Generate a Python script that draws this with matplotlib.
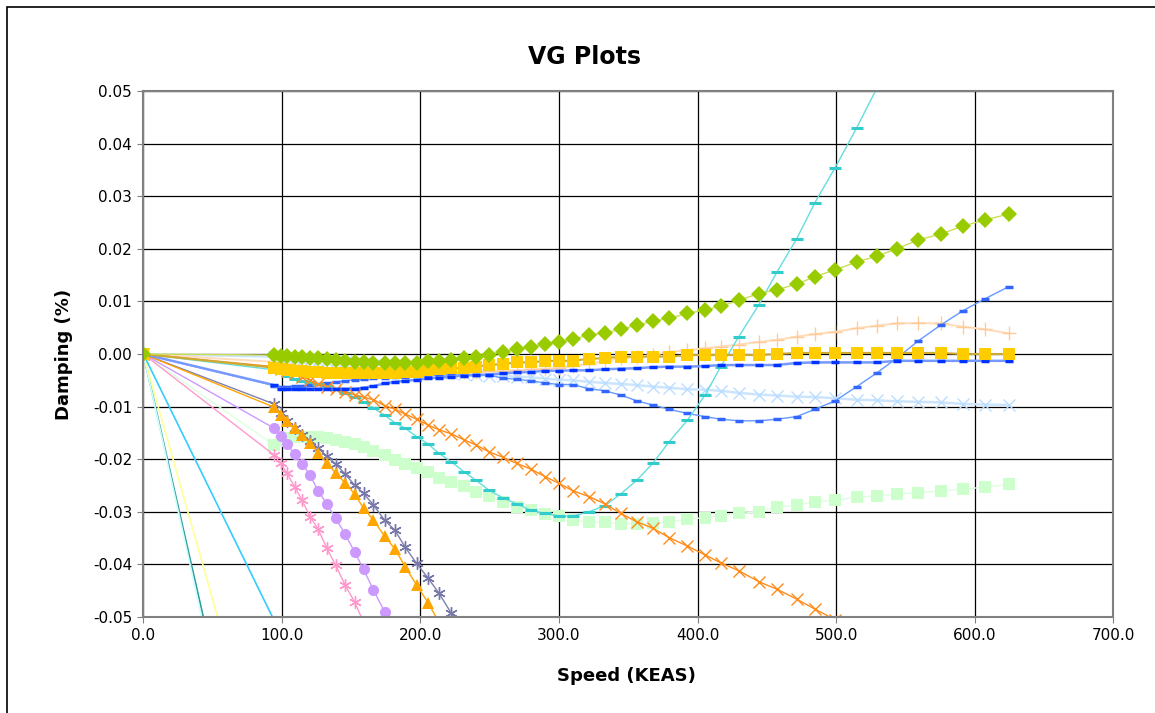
import matplotlib
matplotlib.use("Agg")
from matplotlib import pyplot as plt
from matplotlib.patches import Rectangle

# speed grid (KEAS), shared by every mode
speed = [0.0, 94.3, 99.0, 103.7, 109.1, 114.5, 120.3, 126.1, 132.4, 138.7, 145.6,
         152.4, 158.9, 166.1, 174.1, 181.6, 188.9, 197.2, 205.5, 213.4, 222.3,
         231.4, 240.1, 249.5, 259.2, 269.5, 279.8, 289.9, 300.0, 309.9, 321.6,
         333.2, 344.5, 356.1, 367.6, 379.4, 392.6, 405.4, 416.7, 429.7, 444.3,
         457.1, 471.5, 484.7, 499.2, 514.8, 529.3, 543.7, 559.3, 575.4, 591.3,
         607.4, 624.5]

# damping per mode
green_diamond = [0.0, -0.0002, -0.0003, -0.0004, -0.0005, -0.0006, -0.0007, -0.0008, -0.0010,
                 -0.0011, -0.0013, -0.0015, -0.0016, -0.0017, -0.0018, -0.0018, -0.0018,
                 -0.0017, -0.0013, -0.0013, -0.0011, -0.0008, -0.0005, -0.0001, 0.0004,
                 0.0009, 0.0013, 0.0019, 0.0023, 0.0028, 0.0036, 0.0040, 0.0047, 0.0055,
                 0.0062, 0.0068, 0.0077, 0.0084, 0.0091, 0.0102, 0.0115, 0.0122, 0.0133,
                 0.0147, 0.0160, 0.0175, 0.0186, 0.0200, 0.0217, 0.0228, 0.0243, 0.0255,
                 0.0266]
gold_square = [0.0, -0.0026, -0.0028, -0.0030, -0.0032, -0.0033, -0.0034, -0.0035, -0.0036,
               -0.0036, -0.0037, -0.0037, -0.0037, -0.0037, -0.0037, -0.0036, -0.0035,
               -0.0034, -0.0031, -0.0029, -0.0027, -0.0027, -0.0024, -0.0021, -0.0019,
               -0.0016, -0.0016, -0.0013, -0.0013, -0.0013, -0.0009, -0.0008, -0.0005,
               -0.0005, -0.0005, -0.0005, -0.0002, -0.0002, -0.0002, -0.0002, -0.0002,
               0.0000, 0.0002, 0.0002, 0.0002, 0.0002, 0.0002, 0.0002, 0.0002, 0.0002,
               0.0000, 0.0000, 0.0000]
blue_dash = [0.0, -0.0059, -0.0066, -0.0066, -0.0066, -0.0066, -0.0066, -0.0066, -0.0066,
             -0.0066, -0.0066, -0.0066, -0.0064, -0.0061, -0.0056, -0.0053, -0.0051,
             -0.0049, -0.0046, -0.0045, -0.0043, -0.0041, -0.0040, -0.0039, -0.0037,
             -0.0035, -0.0034, -0.0032, -0.0032, -0.0031, -0.0031, -0.0029, -0.0028,
             -0.0027, -0.0025, -0.0024, -0.0024, -0.0023, -0.0021, -0.0021, -0.0021,
             -0.0021, -0.0017, -0.0016, -0.0016, -0.0016, -0.0016, -0.0013, -0.0013,
             -0.0013, -0.0013, -0.0013, -0.0013]
mid_blue_dash = [0.0, -0.0060, -0.0062, -0.0062, -0.0061, -0.0060, -0.0059, -0.0057, -0.0055,
                 -0.0053, -0.0051, -0.0049, -0.0048, -0.0046, -0.0045, -0.0044, -0.0043,
                 -0.0042, -0.0041, -0.0040, -0.0040, -0.0040, -0.0040, -0.0040, -0.0046,
                 -0.0048, -0.0051, -0.0055, -0.0058, -0.0058, -0.0066, -0.0070, -0.0078,
                 -0.0089, -0.0097, -0.0105, -0.0113, -0.0119, -0.0124, -0.0127, -0.0127,
                 -0.0124, -0.0119, -0.0105, -0.0089, -0.0062, -0.0036, -0.0008, 0.0025,
                 0.0055, 0.0082, 0.0105, 0.0128]
light_blue_x = [0.0, -0.0005, -0.0007, -0.0009, -0.0010, -0.0011, -0.0012, -0.0013, -0.0014,
                -0.0015, -0.0016, -0.0017, -0.0018, -0.0020, -0.0022, -0.0024, -0.0026,
                -0.0029, -0.0031, -0.0034, -0.0036, -0.0038, -0.0040, -0.0041, -0.0042,
                -0.0043, -0.0044, -0.0047, -0.0049, -0.0050, -0.0053, -0.0055, -0.0057,
                -0.0059, -0.0062, -0.0064, -0.0067, -0.0068, -0.0070, -0.0074, -0.0077,
                -0.0079, -0.0081, -0.0082, -0.0084, -0.0087, -0.0088, -0.0090, -0.0091,
                -0.0092, -0.0095, -0.0096, -0.0097]
peach_plus = [0.0, -0.0015, -0.0017, -0.0019, -0.0021, -0.0023, -0.0025, -0.0026, -0.0027,
              -0.0028, -0.0029, -0.0030, -0.0031, -0.0032, -0.0033, -0.0034, -0.0034,
              -0.0035, -0.0035, -0.0035, -0.0035, -0.0035, -0.0034, -0.0033, -0.0032,
              -0.0031, -0.0029, -0.0028, -0.0026, -0.0023, -0.0019, -0.0013, -0.0008,
              -0.0005, -0.0002, 0.0004, 0.0007, 0.0011, 0.0014, 0.0018, 0.0023, 0.0027,
              0.0033, 0.0038, 0.0042, 0.0049, 0.0054, 0.0058, 0.0059, 0.0058, 0.0052,
              0.0047, 0.0039]
cyan_dash = [0.0, -0.0030, -0.0036, -0.0042, -0.0048, -0.0052, -0.0054, -0.0057, -0.0061,
             -0.0067, -0.0074, -0.0082, -0.0091, -0.0103, -0.0116, -0.0131, -0.0141,
             -0.0157, -0.0171, -0.0189, -0.0205, -0.0224, -0.0240, -0.0259, -0.0273,
             -0.0285, -0.0297, -0.0303, -0.0308, -0.0308, -0.0300, -0.0288, -0.0266,
             -0.0240, -0.0208, -0.0167, -0.0126, -0.0078, -0.0024, 0.0033, 0.0094,
             0.0155, 0.0219, 0.0288, 0.0354, 0.0430, 0.0505]
orange_x = [0.0, -0.0024, -0.0028, -0.0032, -0.0037, -0.0043, -0.0050, -0.0057, -0.0062,
            -0.0067, -0.0073, -0.0077, -0.0082, -0.0087, -0.0098, -0.0105, -0.0114,
            -0.0124, -0.0135, -0.0144, -0.0152, -0.0163, -0.0173, -0.0186, -0.0196,
            -0.0208, -0.0219, -0.0233, -0.0246, -0.0260, -0.0271, -0.0285, -0.0303,
            -0.0319, -0.0331, -0.0349, -0.0365, -0.0382, -0.0397, -0.0412, -0.0433,
            -0.0447, -0.0466, -0.0485, -0.0505, -0.0530]
light_green_sq = [0.0, -0.0173, -0.0165, -0.0160, -0.0158, -0.0157, -0.0157, -0.0158, -0.0160,
                  -0.0163, -0.0167, -0.0172, -0.0177, -0.0184, -0.0192, -0.0201, -0.0209,
                  -0.0217, -0.0225, -0.0235, -0.0243, -0.0251, -0.0262, -0.0270, -0.0281,
                  -0.0291, -0.0297, -0.0304, -0.0308, -0.0316, -0.0319, -0.0320, -0.0323,
                  -0.0323, -0.0322, -0.0319, -0.0314, -0.0311, -0.0307, -0.0303, -0.0300,
                  -0.0291, -0.0287, -0.0281, -0.0278, -0.0272, -0.0270, -0.0266, -0.0264,
                  -0.0260, -0.0257, -0.0253, -0.0248]
purple_circle = [0.0, -0.0141, -0.0156, -0.0171, -0.0190, -0.0209, -0.0230, -0.0260, -0.0285,
                 -0.0312, -0.0342, -0.0376, -0.0409, -0.0449, -0.0490, -0.0535]
orange_tri = [0.0, -0.0101, -0.0116, -0.0127, -0.0141, -0.0154, -0.0170, -0.0188, -0.0207,
              -0.0226, -0.0245, -0.0266, -0.0293, -0.0316, -0.0346, -0.0371, -0.0404,
              -0.0439, -0.0473, -0.0510]
slate_star = [0.0, -0.0095, -0.0113, -0.0127, -0.0141, -0.0154, -0.0165, -0.0179, -0.0194,
              -0.0209, -0.0228, -0.0249, -0.0265, -0.0287, -0.0316, -0.0335, -0.0367,
              -0.0398, -0.0426, -0.0455, -0.0493, -0.0530]
pink_star = [0.0, -0.0192, -0.0208, -0.0227, -0.0252, -0.0278, -0.0309, -0.0333, -0.0369,
             -0.0401, -0.0439, -0.0471, -0.0510]
teal_line = [0.0, -0.109]
pale_cyan_line = [0.0, -0.112]
pale_yellow_line = [0.0, -0.088]
sky_line = [0.0, -0.0506]

asterisk = (6, 2, 0)

# (values, line colour, line width, marker, marker colour, marker size, marker edge width)
series = [
    (teal_line, '#339999', 1.3, None, None, 0, 0),
    (pale_cyan_line, '#CCFFFF', 1.2, None, None, 0, 0),
    (pale_yellow_line, '#FFFF99', 1.2, None, None, 0, 0),
    (sky_line, '#33CCFF', 1.2, None, None, 0, 0),
    (light_green_sq, '#DDFFDD', 1.0, 's', '#CCFFCC', 8, 0),
    (light_blue_x, '#CCE5FF', 1.8, 'x', '#BBDDFF', 9, 1.0),
    (peach_plus, '#FFDDBB', 1.5, '+', '#FFCC99', 10, 1.0),
    (mid_blue_dash, '#6699FF', 1.0, '_', '#3366FF', 6, 2.5),
    (cyan_dash, '#66DDDD', 1.0, '_', '#33CCCC', 8, 2.2),
    (orange_x, '#FF8C1A', 1.0, 'x', '#FF8C1A', 8, 1.0),
    (purple_circle, '#CC99FF', 1.0, 'o', '#CC99FF', 8, 0),
    (pink_star, '#FF99CC', 1.0, asterisk, '#FF99CC', 9, 1.0),
    (slate_star, '#8080B0', 1.0, asterisk, '#7777AA', 9, 1.0),
    (orange_tri, '#FFA500', 1.0, '^', '#FFA500', 9, 0),
    (blue_dash, '#7799FF', 1.8, '_', '#0033FF', 6, 2.5),
    (gold_square, '#CCAA33', 1.5, 's', '#FFCC00', 9, 0),
    (green_diamond, '#CCDD55', 1.0, 'D', '#99CC00', 8, 0),
]

fig = plt.figure(figsize=(11.55, 7.13), dpi=100)
ax = fig.add_axes([0.1241, 0.1346, 0.8398, 0.7378])

for vals, lc, lw, mk, mc, ms, mew in series:
    x = speed[:len(vals)]
    if mk is None:
        ax.plot(x, vals, color=lc, lw=lw)
    else:
        ax.plot(x, vals, color=lc, lw=lw, marker=mk, markersize=ms,
                markerfacecolor=mc, markeredgecolor=mc, markeredgewidth=mew)

ax.set_xlim(0, 700)
ax.set_ylim(-0.05, 0.05)
xt = [0, 100, 200, 300, 400, 500, 600, 700]
yt = [-0.05, -0.04, -0.03, -0.02, -0.01, 0.0, 0.01, 0.02, 0.03, 0.04, 0.05]
ax.set_xticks(xt)
ax.set_xticklabels(['%.1f' % v for v in xt])
ax.set_yticks(yt)
ax.set_yticklabels(['%.2f' % v for v in yt])
ax.tick_params(labelsize=11, length=4, color='#808080', pad=4)
ax.grid(True, color='black', lw=0.9)
ax.set_axisbelow(True)
for s in ax.spines.values():
    s.set_color('#808080')
    s.set_linewidth(1.5)

fig.text(0.506, 1 - 57 / 713, 'VG Plots', ha='center', va='center', fontsize=17, fontweight='bold')
fig.text(626 / 1155, 1 - 676 / 713, 'Speed (KEAS)', ha='center', va='center', fontsize=13, fontweight='bold')
fig.text(64 / 1155, 1 - 354 / 713, 'Damping (%)', ha='center', va='center', rotation=90, fontsize=13, fontweight='bold')

fig.patches.append(Rectangle((7 / 1155, -0.01), 1.02, 1 - 7 / 713 + 0.01, transform=fig.transFigure,
                             fill=False, ec='black', lw=1.2))

fig.savefig('out.png', dpi=100)
